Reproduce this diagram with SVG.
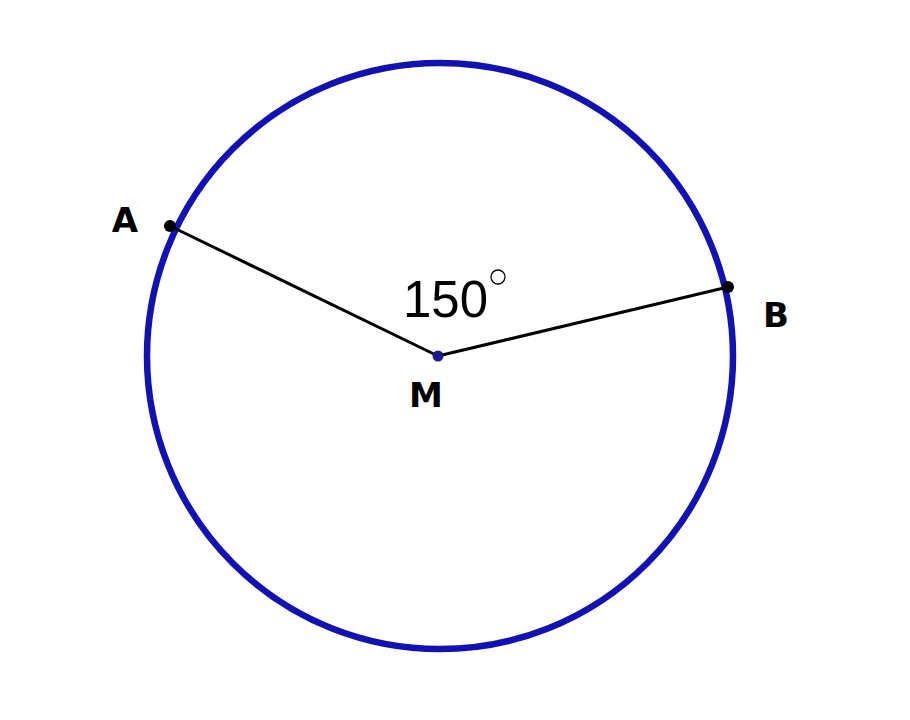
<svg xmlns="http://www.w3.org/2000/svg" width="910" height="720" viewBox="0 0 910 720">
<style>
.lbl{font-family:"DejaVu Sans",Verdana,sans-serif;font-weight:bold;font-size:34px;fill:#000;text-anchor:middle}
.seg{stroke:#000;stroke-width:3;fill:none}
</style>
<rect width="910" height="720" fill="#fff"/>
<g id="circle"><circle cx="440" cy="356" r="293" fill="none" stroke="#1212b4" stroke-width="6.5"/></g>
<g id="connectors">
<line class="seg" x1="170" y1="226" x2="438" y2="356"/>
<line class="seg" x1="438" y1="356" x2="728" y2="287"/>
</g>
<g id="A"><circle cx="170" cy="226" r="6" fill="#000"/><text class="lbl" x="125" y="232">A</text></g>
<g id="B"><circle cx="728" cy="287" r="6" fill="#000"/><text class="lbl" x="776" y="327">B</text></g>
<g id="M"><circle cx="438" cy="356" r="5.5" fill="#1a1a8c"/><text class="lbl" x="426" y="407">M</text></g>
<g id="angle">
<text x="403" y="317" font-family="Liberation Sans,Arial,sans-serif" font-size="52" textLength="85" lengthAdjust="spacingAndGlyphs" fill="#000">150</text>
<circle cx="498" cy="277" r="7" fill="none" stroke="#000" stroke-width="1.3"/>
</g>
</svg>
